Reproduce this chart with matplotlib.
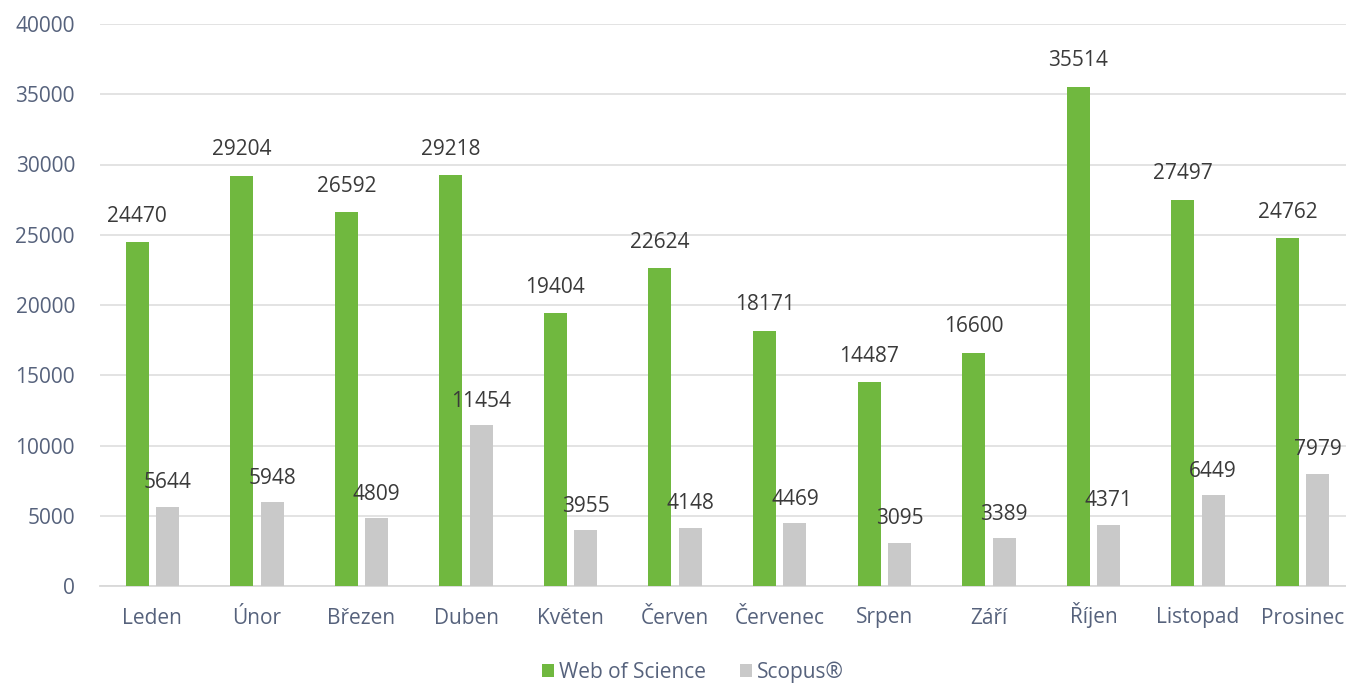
import matplotlib
matplotlib.use("Agg")
import matplotlib.pyplot as plt
import numpy as np

months = ["Leden", "Únor", "Březen", "Duben", "Květen", "Červen", "Červenec",
          "Srpen", "Září", "Říjen", "Listopad", "Prosinec"]
wos = [24470, 29204, 26592, 29218, 19404, 22624, 18171, 14487, 16600, 35514, 27497, 24762]
scopus = [5644, 5948, 4809, 11454, 3955, 4148, 4469, 3095, 3389, 4371, 6449, 7979]
yticks = [0, 5000, 10000, 15000, 20000, 25000, 30000, 35000, 40000]

plt.rcParams['font.family'] = ['Open Sans', 'DejaVu Sans']

GREEN = '#70b83f'
GRAY = '#c9c9c9'
TICK = '#56627c'
LABEL = '#3a3a3a'

fig = plt.figure(figsize=(13.46, 6.84), dpi=100)
ax = fig.add_axes([100/1346, 98/684, 1246/1346, 562/684])

x = np.arange(len(months))
w = 0.22
off = 0.145
b1 = ax.bar(x - off, wos, w, color=GREEN, label='Web of Science', zorder=3)
b2 = ax.bar(x + off, scopus, w, color=GRAY, label='Scopus®', zorder=3)

for xi, v in zip(x - off, wos):
    ax.annotate(str(v), (xi, v), xytext=(0, 14.8), textcoords='offset points',
                ha='center', va='baseline', fontsize=15, color=LABEL)
for xi, v in zip(x + off, scopus):
    ax.annotate(str(v), (xi, v), xytext=(0, 13.3), textcoords='offset points',
                ha='center', va='baseline', fontsize=15, color=LABEL)

ax.set_xlim(-0.5, 11.415)
ax.set_ylim(0, 40000)
ax.set_yticks(yticks)
ax.set_yticklabels([str(t) for t in yticks])
ax.set_xticks(x)
ax.set_xticklabels(months)
ax.tick_params(axis='both', length=0, labelsize=15, colors=TICK)
ax.tick_params(axis='y', pad=18)
ax.tick_params(axis='x', pad=27)
for lab in ax.get_xticklabels():
    lab.set_va('baseline')
ax.yaxis.grid(True, color='#e0e0e0', linewidth=1.3, zorder=0)
ax.set_axisbelow(True)
for s in ['top', 'right', 'left']:
    ax.spines[s].set_visible(False)
ax.spines['bottom'].set_color('#d9d9d9')
ax.spines['bottom'].set_linewidth(1.3)

leg = fig.legend(handles=[b1, b2], loc='center', bbox_to_anchor=(693/1346, 12/684),
                 ncol=2, frameon=False, fontsize=15, handlelength=0.6, handleheight=0.6,
                 handletextpad=0.25, columnspacing=1.6, labelcolor=TICK)

fig.savefig('out.png', dpi=100)
